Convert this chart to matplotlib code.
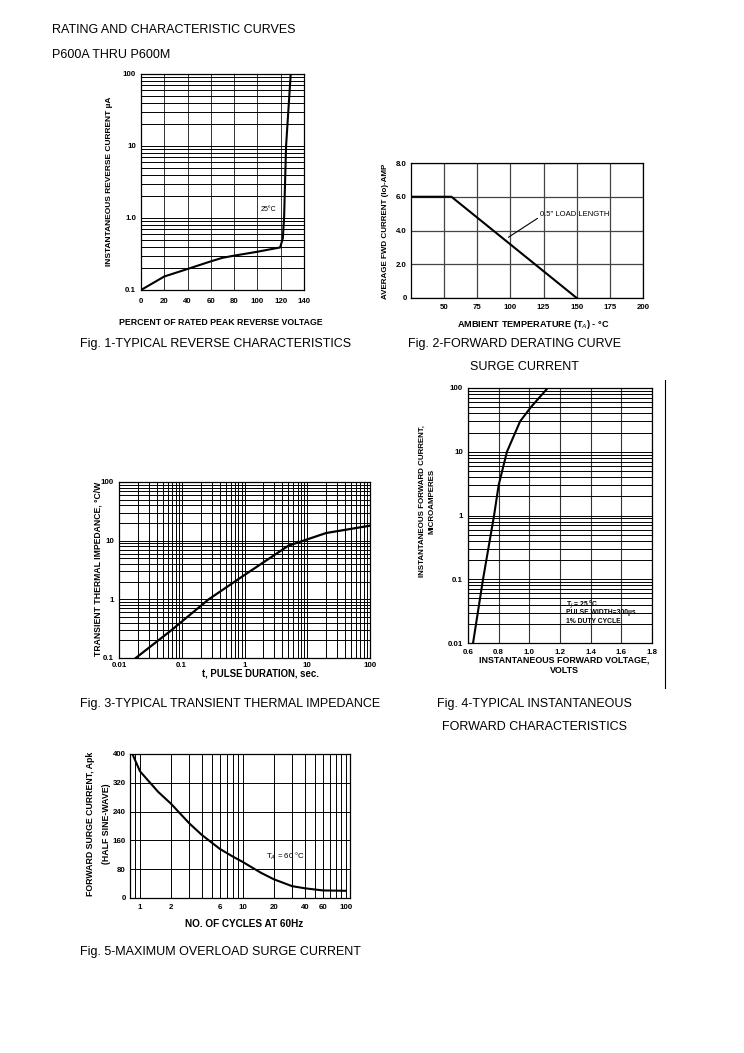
import matplotlib as mpl
mpl.use('Agg')
import matplotlib.pyplot as plt
from matplotlib.lines import Line2D
from matplotlib.ticker import LogLocator, NullFormatter, FixedLocator

# Fig. 1 - typical reverse characteristics
rev_pct = [0, 20, 40, 60, 70, 80, 100, 119.5, 121.8, 122.9, 124.6, 126.5, 128.6]
rev_ua = [0.1, 0.154, 0.196, 0.25, 0.28, 0.30, 0.34, 0.39, 0.52, 1.0, 10, 30, 100]
rev_xticks = [0, 20, 40, 60, 80, 100, 120, 140]
rev_yticks = [0.1, 1, 10, 100]
rev_ylabels = ['0.1', '1.0', '10', '100']

# Fig. 2 - forward derating curve
der_temp = [25, 55.5, 150]
der_amp = [6.0, 6.0, 0.0]
der_xticks = [50, 75, 100, 125, 150, 175, 200]
der_yticks = [0, 2, 4, 6, 8]
der_ylabels = ['0', '2.0', '4.0', '6.0', '8.0']

# Fig. 3 - transient thermal impedance
tr_t = [0.0185, 0.069, 0.265, 1.0, 5.0, 20, 100]
tr_z = [0.1, 0.30, 0.99, 2.6, 8.2, 13.5, 18]
tr_xticks = [0.01, 0.1, 1, 10, 100]
tr_xlabels = ['0.01', '0.1', '1', '10', '100']
tr_yticks = [0.1, 1, 10, 100]
tr_ylabels = ['0.1', '1', '10', '100']

# Fig. 4 - instantaneous forward characteristics
fw_v = [0.633, 0.698, 0.77, 0.80, 0.854, 0.94, 1.01, 1.12]
fw_i = [0.01, 0.1, 1, 3, 10, 30, 50, 100]
fw_xticks = [0.6, 0.8, 1.0, 1.2, 1.4, 1.6, 1.8]
fw_xlabels = ['0.6', '0.8', '1.0', '1.2', '1.4', '1.6', '1.8']
fw_yticks = [0.01, 0.1, 1, 10, 100]
fw_ylabels = ['0.01', '0.1', '1', '10', '100']

# Fig. 5 - maximum overload surge current
sg_cyc = [0.85, 1, 1.5, 2, 3, 4, 6, 8, 10, 15, 20, 30, 40, 60, 100]
sg_amp = [398, 352, 295, 262, 208, 175, 136, 115, 100, 70, 52, 33, 27, 21, 20]
sg_xticks = [1, 2, 6, 10, 20, 40, 60, 100]
sg_yticks = [0, 80, 160, 240, 320, 400]

W, H = 744, 1053
plt.rcParams['font.family'] = ['Liberation Sans', 'DejaVu Sans']
fig = plt.figure(figsize=(W / 100, H / 100), dpi=100)


def box(l, r, t, b):
    return [l / W, 1 - b / H, (r - l) / W, (b - t) / H]


def style(ax, padx, pady):
    ax.tick_params(which='both', length=0, labelsize=5.7)
    ax.tick_params(axis='x', pad=padx)
    ax.tick_params(axis='y', pad=pady)
    for lab in ax.get_xticklabels() + ax.get_yticklabels():
        lab.set_fontweight('bold')
    for s in ax.spines.values():
        s.set_linewidth(0.9)


def put_labels(ax, xl, yl, xpos, ypos, xs, ys, yspace=1.1):
    ax.set_xlabel(xl, fontsize=xs, fontweight='bold', linespacing=1.1)
    ax.set_ylabel(yl, fontsize=ys, fontweight='bold', linespacing=yspace)
    ax.xaxis.set_label_coords(xpos[0] / W, 1 - xpos[1] / H, transform=fig.transFigure)
    ax.yaxis.set_label_coords(ypos[0] / W, 1 - ypos[1] / H, transform=fig.transFigure)


gridkw = dict(color='black', linewidth=0.7)

# ---- Fig 1
ax1 = fig.add_axes(box(141, 304, 74, 290))
ax1.set_yscale('log')
ax1.set_xlim(0, 140)
ax1.set_ylim(0.1, 100)
ax1.xaxis.set_major_locator(FixedLocator(rev_xticks))
ax1.set_yticks(rev_yticks)
ax1.set_yticklabels(rev_ylabels)
ax1.yaxis.set_minor_locator(LogLocator(subs=range(2, 10)))
ax1.yaxis.set_minor_formatter(NullFormatter())
ax1.grid(True, which='both', axis='y', **gridkw)
ax1.grid(True, which='major', axis='x', color='#333333', linewidth=0.7)
ax1.plot(rev_pct, rev_ua, color='black', linewidth=1.5)
ax1.text(103, 1.3, '25°C', fontsize=5, va='center')
style(ax1, 6, 3.5)
put_labels(ax1, 'PERCENT OF RATED PEAK REVERSE VOLTAGE',
           'INSTANTANEOUS REVERSE CURRENT µA', (221, 318), (113, 181), 6.3, 6.0)

# ---- Fig 2
ax2 = fig.add_axes(box(411, 643, 163, 298))
ax2.set_xlim(25, 200)
ax2.set_ylim(0, 8)
ax2.set_xticks(der_xticks)
ax2.set_yticks(der_yticks)
ax2.set_yticklabels(der_ylabels)
ax2.grid(True, color='#444444', linewidth=0.9)
ax2.plot(der_temp, der_amp, color='black', linewidth=1.5)
ax2.annotate('0.5" LOAD LENGTH', xy=(98.5, 3.6), xytext=(122.5, 4.95),
             fontsize=5.5, va='center',
             arrowprops=dict(arrowstyle='-', color='black', linewidth=0.8,
                             shrinkA=0, shrinkB=0, relpos=(0, 0.2)))
style(ax2, 4, 3)
put_labels(ax2, 'AMBIENT TEMPERATURE (T$_A$) - °C',
           'AVERAGE FWD CURRENT (Io)-AMP', (533, 318), (389, 231), 6.6, 5.8)

# ---- Fig 3
ax3 = fig.add_axes(box(119, 370, 482, 658))
ax3.set_xscale('log')
ax3.set_yscale('log')
ax3.set_xlim(0.01, 100)
ax3.set_ylim(0.1, 100)
ax3.set_xticks(tr_xticks)
ax3.set_xticklabels(tr_xlabels)
ax3.set_yticks(tr_yticks)
ax3.set_yticklabels(tr_ylabels)
for a in (ax3.xaxis, ax3.yaxis):
    a.set_minor_locator(LogLocator(subs=range(2, 10)))
    a.set_minor_formatter(NullFormatter())
ax3.grid(True, which='both', **gridkw)
ax3.plot(tr_t, tr_z, color='black', linewidth=1.6)
style(ax3, 3, 3.5)
put_labels(ax3, 't, PULSE DURATION, sec.',
           'TRANSIENT THERMAL IMPEDANCE, °C/W', (260, 668), (103, 569), 6.9, 6.2)

# ---- Fig 4
ax4 = fig.add_axes(box(468, 652, 388, 643))
ax4.set_yscale('log')
ax4.set_xlim(0.6, 1.8)
ax4.set_ylim(0.01, 100)
ax4.set_xticks(fw_xticks)
ax4.set_xticklabels(fw_xlabels)
ax4.set_yticks(fw_yticks)
ax4.set_yticklabels(fw_ylabels)
ax4.yaxis.set_minor_locator(LogLocator(subs=range(2, 10)))
ax4.yaxis.set_minor_formatter(NullFormatter())
ax4.grid(True, which='both', axis='y', **gridkw)
ax4.grid(True, which='major', axis='x', color='#333333', linewidth=0.8)
ax4.plot(fw_v, fw_i, color='black', linewidth=1.5)
ax4.text(1.24, 0.040, 'T$_J$ = 25 °C', fontsize=4.9, fontweight='bold', va='center')
ax4.text(1.24, 0.030, 'PULSE WIDTH=300µs', fontsize=4.9, fontweight='bold', va='center')
ax4.text(1.24, 0.022, '1% DUTY CYCLE', fontsize=4.9, fontweight='bold', va='center')
style(ax4, 4, 3.5)
put_labels(ax4, 'INSTANTANEOUS FORWARD VOLTAGE,\nVOLTS',
           'INSTANTANEOUS FORWARD CURRENT,\nMICROAMPERES', (564, 656), (435, 501), 6.4, 5.7, 1.4)

# ---- Fig 5
ax5 = fig.add_axes(box(130, 350, 754, 898))
ax5.set_xscale('log')
ax5.set_xlim(0.8, 110)
ax5.set_ylim(0, 400)
ax5.set_xticks(sg_xticks)
ax5.set_xticklabels([str(v) for v in sg_xticks])
ax5.xaxis.set_minor_locator(LogLocator(subs=range(2, 10)))
ax5.xaxis.set_minor_formatter(NullFormatter())
ax5.set_yticks(sg_yticks)
ax5.grid(True, which='both', axis='x', **gridkw)
ax5.grid(True, which='major', axis='y', **gridkw)
ax5.plot(sg_cyc, sg_amp, color='black', linewidth=1.5)
ax5.text(16.9, 115, 'T$_A$ = 60 °C', fontsize=5.7, va='center')
style(ax5, 4.5, 3)
put_labels(ax5, 'NO. OF CYCLES AT 60Hz',
           'FORWARD SURGE CURRENT, Apk\n(HALF SINE-WAVE)', (244, 919), (111, 824), 7.2, 6.3, 2.0)

# ---- page texts
cap = 9.0
fig.text(52 / W, 1 - 30 / H, 'RATING AND CHARACTERISTIC CURVES', fontsize=cap, va='center')
fig.text(52 / W, 1 - 55 / H, 'P600A THRU P600M', fontsize=cap, va='center')
fig.text(80 / W, 1 - 344 / H, 'Fig. 1-TYPICAL REVERSE CHARACTERISTICS', fontsize=cap, va='center')
fig.text(408 / W, 1 - 344 / H, 'Fig. 2-FORWARD DERATING CURVE', fontsize=cap, va='center')
fig.text(524 / W, 1 - 367 / H, 'SURGE CURRENT', fontsize=cap, va='center', ha='center')
fig.text(80 / W, 1 - 704 / H, 'Fig. 3-TYPICAL TRANSIENT THERMAL IMPEDANCE', fontsize=cap, va='center')
fig.text(534 / W, 1 - 704 / H, 'Fig. 4-TYPICAL INSTANTANEOUS', fontsize=cap, va='center', ha='center')
fig.text(534 / W, 1 - 727 / H, 'FORWARD CHARACTERISTICS', fontsize=cap, va='center', ha='center')
fig.text(80 / W, 1 - 952 / H, 'Fig. 5-MAXIMUM OVERLOAD SURGE CURRENT', fontsize=cap, va='center')

fig.add_artist(Line2D([665 / W, 665 / W], [1 - 380 / H, 1 - 688 / H],
                      transform=fig.transFigure, color='black', linewidth=0.8))

fig.savefig('out.png', dpi=100)
